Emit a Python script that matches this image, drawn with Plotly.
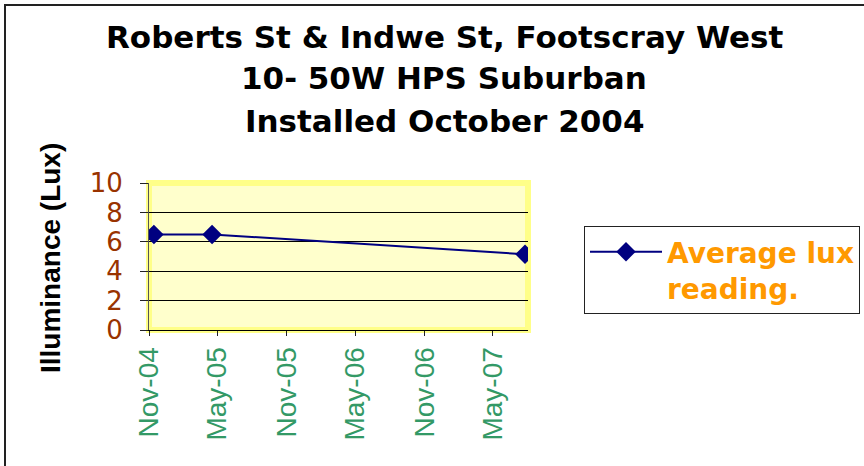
import plotly.graph_objects as go

# Data
dates = ["2004-11-14", "2005-04-17", "2007-07-25"]
lux = [6.5, 6.5, 5.15]
series_name = "Average lux<br>reading."
title_lines = ["Roberts St & Indwe St, Footscray West", "10- 50W HPS Suburban", "Installed October 2004"]
y_title = "Illuminance (Lux)"
x_range = ["2004-11-01", "2007-08-02"]
y_ticks = [0, 2, 4, 6, 8, 10]

W, H = 864, 466
L, R, T, B = 149, 336, 183, 136
pw = W - L - R
ph = H - T - B

fig = go.Figure()
fig.add_trace(go.Scatter(
    x=dates, y=lux, mode="lines+markers", name=series_name,
    line=dict(color="#000080", width=2),
    marker=dict(symbol="diamond", size=15, color="#000080"),
    showlegend=True,
))

def px_x(p):
    return (p - L) / pw

def px_y(p):
    return (H - B - p) / ph

shapes = [
    # yellow border of plot area
    dict(type="rect", xref="paper", yref="paper", x0=0, x1=1, y0=0, y1=1,
         line=dict(color="#FFFF88", width=6), fillcolor="rgba(0,0,0,0)", layer="between"),
    # outer chart border
    dict(type="rect", xref="paper", yref="paper", x0=px_x(5), x1=px_x(900), y0=px_y(500), y1=px_y(5),
         line=dict(color="#222222", width=2), fillcolor="rgba(0,0,0,0)", layer="above"),
]

title_y = [37, 78, 121]
annotations = [dict(
    text=t, xref="paper", yref="paper", x=px_x(444), y=px_y(yy),
    xanchor="center", yanchor="middle", showarrow=False,
    font=dict(family="DejaVu Sans", size=31, color="black", weight="bold"),
) for t, yy in zip(title_lines, title_y)]
annotations.append(dict(
    text=y_title, textangle=-90, xref="paper", yref="paper",
    x=px_x(50), y=px_y(258), xanchor="center", yanchor="middle", showarrow=False,
    font=dict(family="Liberation Sans, Arial", size=28, color="black", weight="bold"),
))

fig.update_layout(
    width=W, height=H,
    margin=dict(l=L, r=R, t=T, b=B, autoexpand=False),
    paper_bgcolor="white",
    plot_bgcolor="#FFFFCC",
    shapes=shapes,
    showlegend=True,
    legend=dict(
        x=px_x(584), y=px_y(226), xanchor="left", yanchor="top",
        bordercolor="#222222", borderwidth=1, bgcolor="white",
        font=dict(family="DejaVu Sans", size=28, color="#FF9900", weight="bold"),
        valign="top", itemwidth=72,
    ),
    annotations=annotations,
)

fig.update_xaxes(
    type="date", range=x_range,
    tick0="2004-11-01", dtick="M6", tickformat="%b-%y",
    tickangle=-90, ticks="outside", ticklen=5, tickcolor="#222222",
    tickfont=dict(family="Liberation Sans, Arial", size=28, color="#339966"),
    showline=True, linecolor="black", linewidth=1,
    showgrid=False, zeroline=False,
)
fig.update_yaxes(
    range=[0, 10], tickvals=y_ticks,
    ticks="outside", ticklen=8, tickcolor="#222222",
    tickfont=dict(family="DejaVu Sans", size=26, color="#993300"),
    ticklabelstandoff=12,
    showline=True, linecolor="#555555", linewidth=1,
    showgrid=True, gridcolor="black", gridwidth=1, zeroline=False,
)

fig.write_html("out.html", config={"displayModeBar": False},
               post_script="document.body.style.margin='0px';")
